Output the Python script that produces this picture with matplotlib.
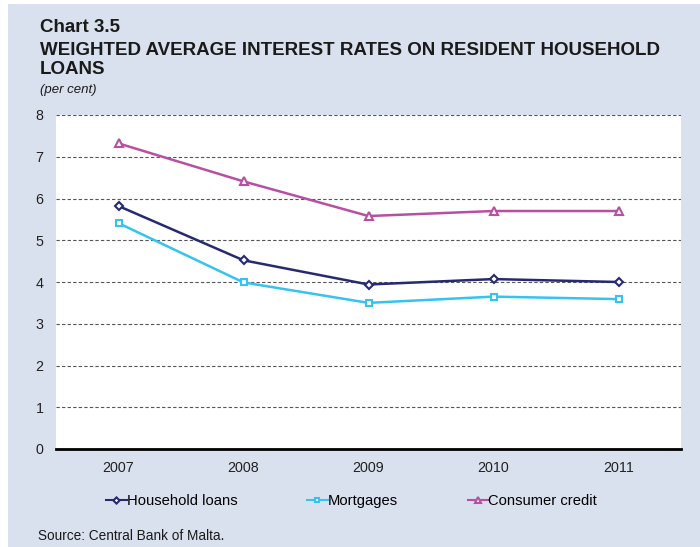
import matplotlib
matplotlib.use("Agg")
import matplotlib.pyplot as plt
from matplotlib.patches import Rectangle

years = ["2007", "2008", "2009", "2010", "2011"]
household_loans = [5.82, 4.52, 3.94, 4.07, 4.00]
mortgages = [5.41, 3.99, 3.50, 3.65, 3.59]
consumer_credit = [7.32, 6.41, 5.58, 5.70, 5.70]
y_ticks = [0, 1, 2, 3, 4, 5, 6, 7, 8]

plt.rcParams['font.family'] = ['Liberation Sans', 'DejaVu Sans']

W, H = 700, 547
fig = plt.figure(figsize=(W / 100, H / 100), dpi=100)
fig.patch.set_facecolor('white')
bg = '#DAE1EE'
fig.patches.append(Rectangle((8 / W, 0), 1 - 8 / W, 1 - 4 / H,
                             transform=fig.transFigure, facecolor=bg,
                             edgecolor='none', zorder=-10))

left, right, top, bottom = 56, 681, 115, 449
ax = fig.add_axes([left / W, 1 - bottom / H, (right - left) / W, (bottom - top) / H])
ax.set_facecolor('white')

x = list(range(len(years)))
ax.plot(x, household_loans, color='#262A70', lw=1.8, marker='D', ms=4.5,
        mfc='white', mec='#262A70', mew=1.5, label='Household loans', zorder=4)
ax.plot(x, mortgages, color='#35C3F0', lw=1.8, marker='s', ms=5,
        mfc='white', mec='#35C3F0', mew=1.5, label='Mortgages', zorder=3)
ax.plot(x, consumer_credit, color='#B94FA2', lw=1.8, marker='^', ms=5.5,
        mfc='white', mec='#B94FA2', mew=1.5, label='Consumer credit', zorder=3)

ax.set_xlim(-0.5, 4.5)
ax.set_ylim(0, 8)
ax.set_yticks(y_ticks)
ax.set_xticks(x)
ax.set_xticklabels(years)
for yv in y_ticks[1:]:
    ax.axhline(yv, color='#555555', lw=0.8, ls=(0, (3, 2)), zorder=1)
for s in ['left', 'right', 'top']:
    ax.spines[s].set_visible(False)
ax.spines['bottom'].set_linewidth(2)
ax.spines['bottom'].set_color('black')
ax.tick_params(axis='both', length=0, labelsize=10.3, colors='#222222')
ax.tick_params(axis='y', pad=9)
ax.tick_params(axis='x', pad=9)

fig.text(40 / W, 1 - 32 / H, 'Chart 3.5', fontsize=13.5, fontweight='bold',
         va='baseline', ha='left', color='#1a1a1a')
fig.text(40 / W, 1 - 55 / H, 'WEIGHTED AVERAGE INTEREST RATES ON RESIDENT HOUSEHOLD',
         fontsize=13.5, fontweight='bold', va='baseline', ha='left', color='#1a1a1a')
fig.text(40 / W, 1 - 74 / H, 'LOANS', fontsize=13.5, fontweight='bold',
         va='baseline', ha='left', color='#1a1a1a')
fig.text(40 / W, 1 - 93 / H, '(per cent)', fontsize=9.5, style='italic',
         va='baseline', ha='left', color='#1a1a1a')
fig.text(38 / W, 1 - 540 / H, 'Source: Central Bank of Malta.', fontsize=9.8,
         va='baseline', ha='left', color='#1a1a1a')

leg = fig.legend(loc='center left', bbox_to_anchor=(106 / W, 1 - 501 / H), ncol=3,
                 frameon=False, fontsize=10.6, handlelength=1.4, handletextpad=0.0,
                 columnspacing=4.75, borderaxespad=0, borderpad=0, markerscale=0.7)
for line in leg.get_lines():
    line.set_linewidth(1.5)

fig.savefig('out.png', dpi=100, facecolor=fig.get_facecolor())
